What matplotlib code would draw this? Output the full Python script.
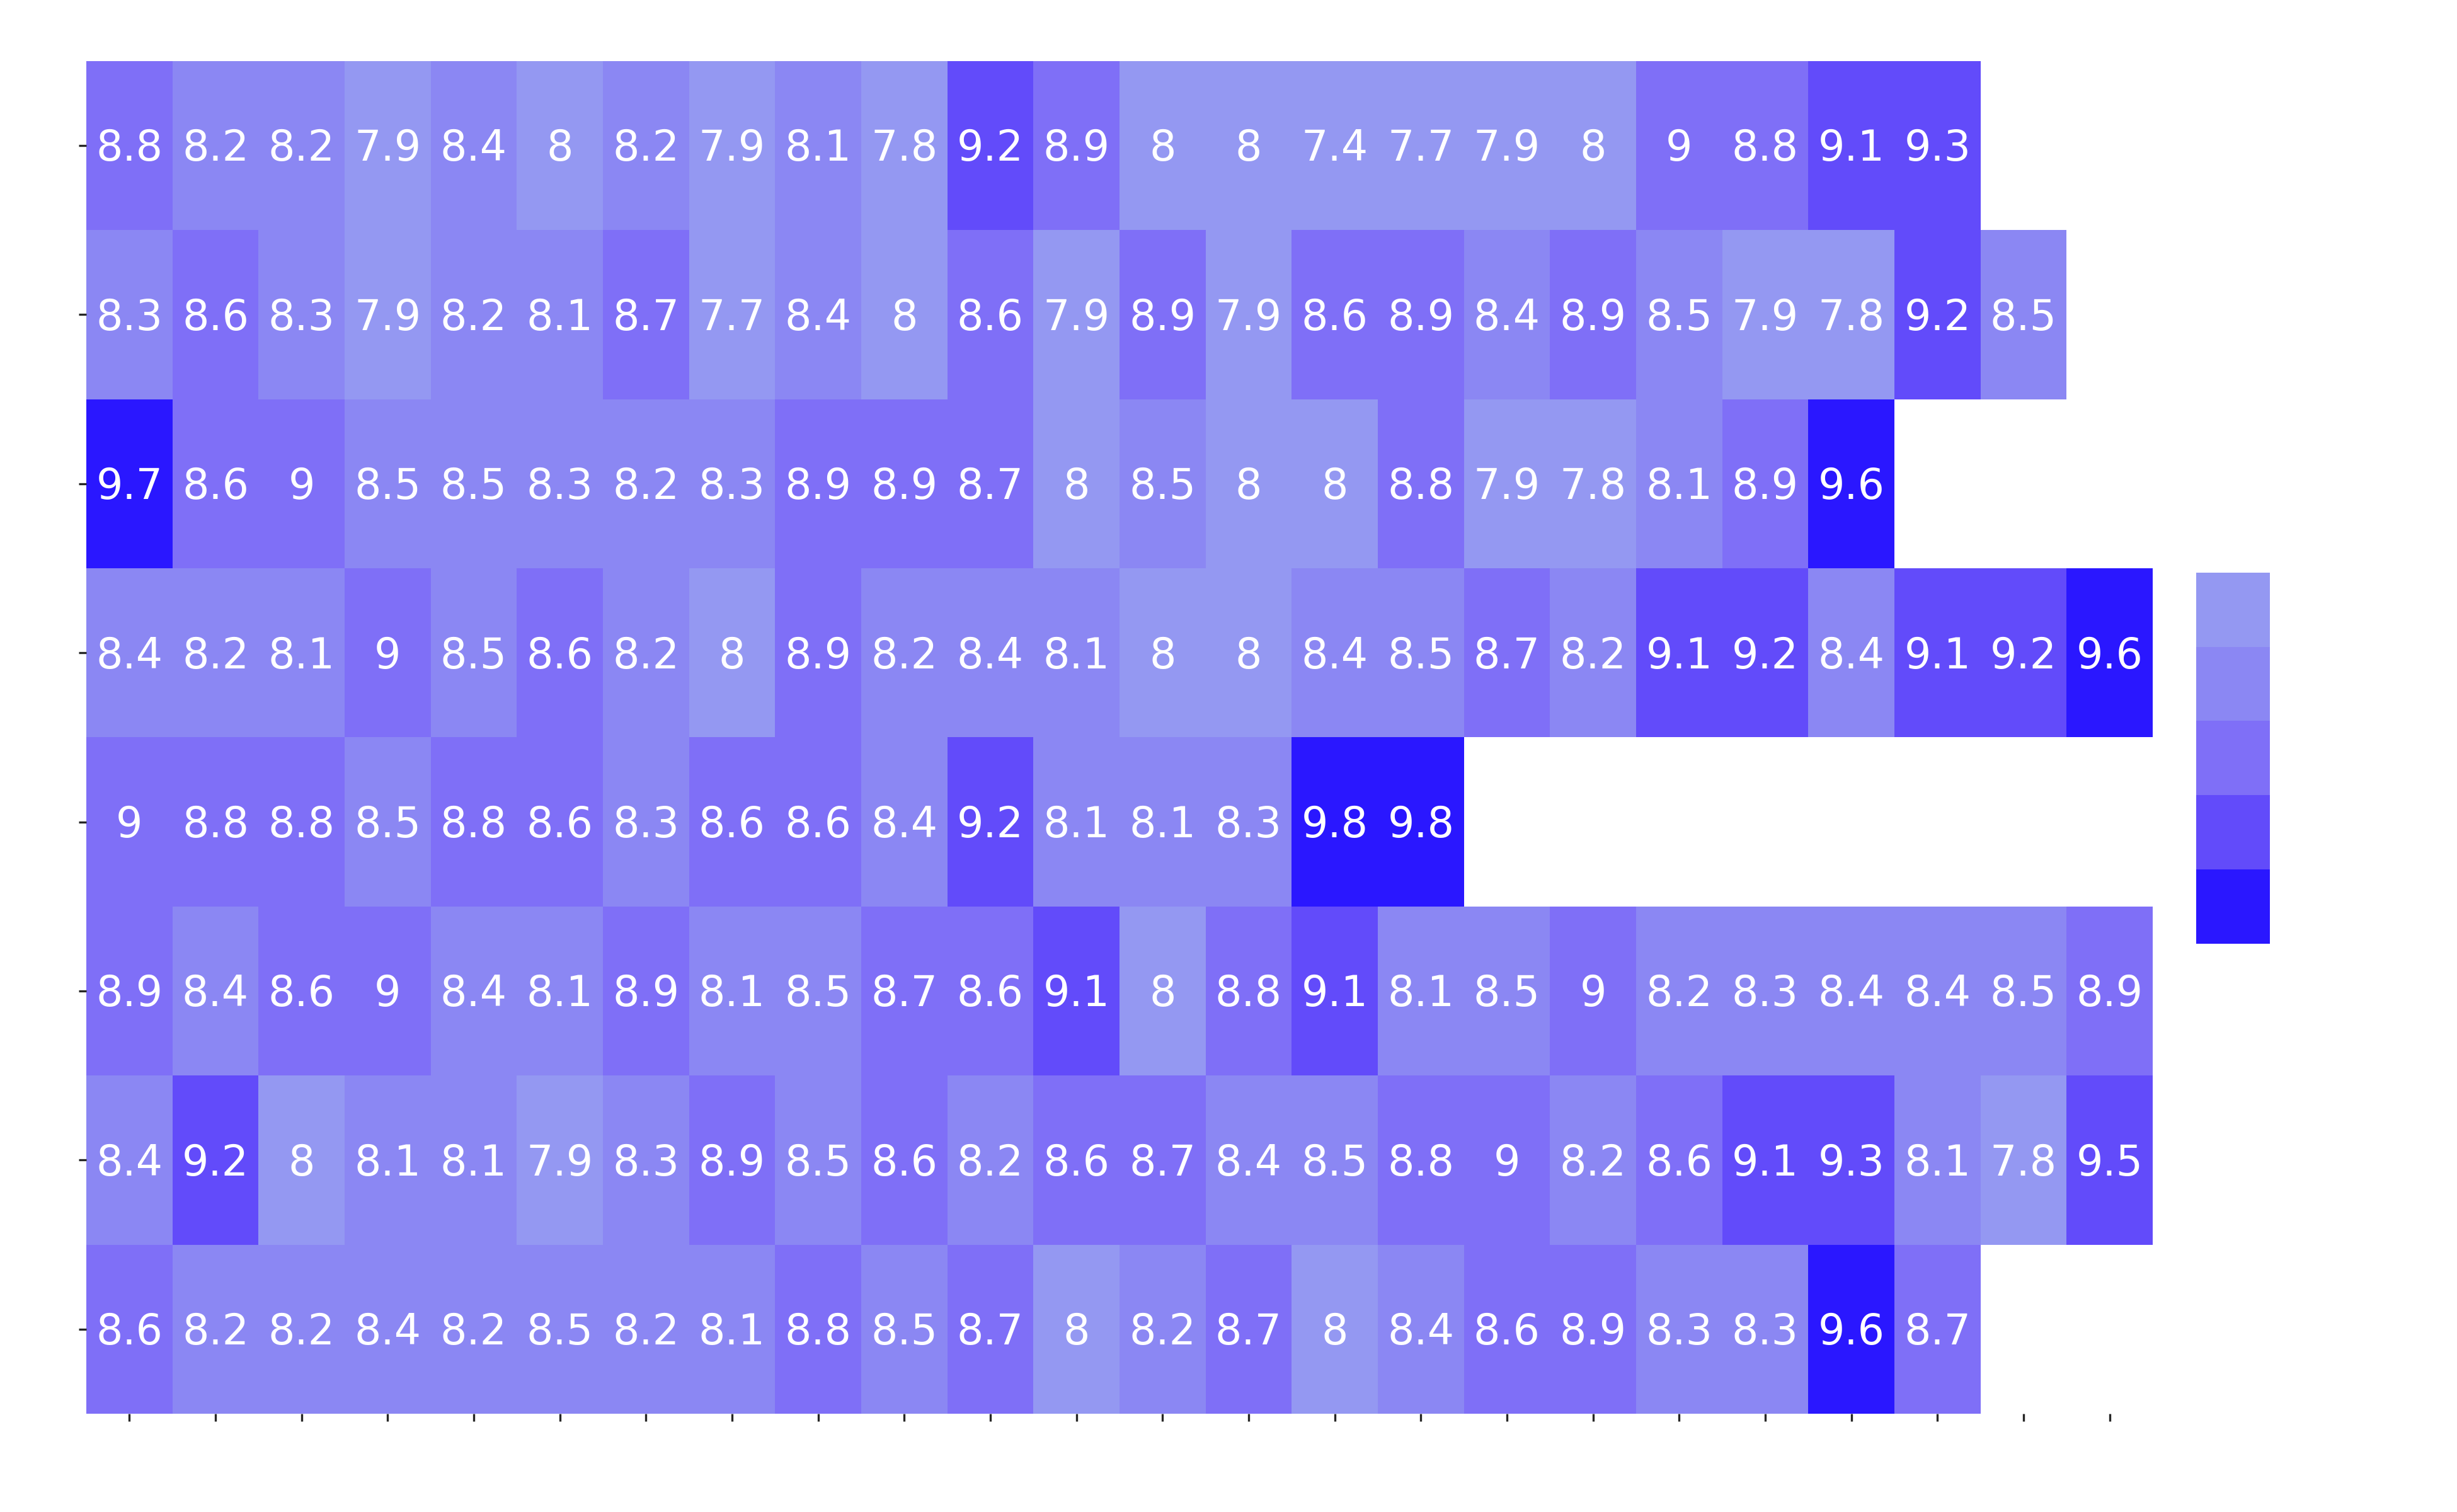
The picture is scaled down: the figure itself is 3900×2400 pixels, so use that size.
import numpy as np
import matplotlib
matplotlib.use("Agg")
import matplotlib.pyplot as plt
from matplotlib.colors import ListedColormap, BoundaryNorm

nan = np.nan
row0 = [8.8, 8.2, 8.2, 7.9, 8.4, 8.0, 8.2, 7.9, 8.1, 7.8, 9.2, 8.9, 8.0, 8.0, 7.4, 7.7, 7.9, 8.0, 9.0, 8.8, 9.1, 9.3, nan, nan]
row1 = [8.3, 8.6, 8.3, 7.9, 8.2, 8.1, 8.7, 7.7, 8.4, 8.0, 8.6, 7.9, 8.9, 7.9, 8.6, 8.9, 8.4, 8.9, 8.5, 7.9, 7.8, 9.2, 8.5, nan]
row2 = [9.7, 8.6, 9.0, 8.5, 8.5, 8.3, 8.2, 8.3, 8.9, 8.9, 8.7, 8.0, 8.5, 8.0, 8.0, 8.8, 7.9, 7.8, 8.1, 8.9, 9.6, nan, nan, nan]
row3 = [8.4, 8.2, 8.1, 9.0, 8.5, 8.6, 8.2, 8.0, 8.9, 8.2, 8.4, 8.1, 8.0, 8.0, 8.4, 8.5, 8.7, 8.2, 9.1, 9.2, 8.4, 9.1, 9.2, 9.6]
row4 = [9.0, 8.8, 8.8, 8.5, 8.8, 8.6, 8.3, 8.6, 8.6, 8.4, 9.2, 8.1, 8.1, 8.3, 9.8, 9.8, nan, nan, nan, nan, nan, nan, nan, nan]
row5 = [8.9, 8.4, 8.6, 9.0, 8.4, 8.1, 8.9, 8.1, 8.5, 8.7, 8.6, 9.1, 8.0, 8.8, 9.1, 8.1, 8.5, 9.0, 8.2, 8.3, 8.4, 8.4, 8.5, 8.9]
row6 = [8.4, 9.2, 8.0, 8.1, 8.1, 7.9, 8.3, 8.9, 8.5, 8.6, 8.2, 8.6, 8.7, 8.4, 8.5, 8.8, 9.0, 8.2, 8.6, 9.1, 9.3, 8.1, 7.8, 9.5]
row7 = [8.6, 8.2, 8.2, 8.4, 8.2, 8.5, 8.2, 8.1, 8.8, 8.5, 8.7, 8.0, 8.2, 8.7, 8.0, 8.4, 8.6, 8.9, 8.3, 8.3, 9.6, 8.7, nan, nan]

bin_edges = [7.0, 8.05, 8.55, 9.05, 9.55, 10.0]
palette = ["#9498F2", "#8B87F3", "#7F6FF7", "#624BFA", "#2A17FF"]

data = np.array([row0, row1, row2, row3, row4, row5, row6, row7])
nrows, ncols = data.shape

fig = plt.figure(figsize=(16.25, 10), dpi=240)
ax = fig.add_axes([0.03513, 0.0650, 0.8410, 0.8947])

cmap = ListedColormap(palette)
norm = BoundaryNorm(bin_edges, cmap.N)
masked = np.ma.masked_invalid(data)
mesh = ax.pcolormesh(np.arange(ncols + 1), np.arange(nrows + 1), masked,
                     cmap=cmap, norm=norm, edgecolors="none")
ax.set_xlim(0, ncols)
ax.set_ylim(nrows, 0)

for i in range(nrows):
    for j in range(ncols):
        v = data[i, j]
        if not np.isnan(v):
            ax.text(j + 0.5, i + 0.5 + 0.0913, f"{v:g}", ha="center", va="baseline",
                    color="white", fontsize=20)

ax.set_xticks(np.arange(ncols) + 0.5)
ax.set_yticks(np.arange(nrows) + 0.5)
ax.set_xticklabels([""] * ncols)
ax.set_yticklabels([""] * nrows)
ax.tick_params(colors="#262626", length=3.5, width=1.0)
for s in ax.spines.values():
    s.set_visible(False)

cax = fig.add_axes([0.8938, 0.3760, 0.0300, 0.2453])
cb = fig.colorbar(mesh, cax=cax, drawedges=True, spacing="uniform")
cb.outline.set_visible(False)
cb.dividers.set_color("white")
cb.dividers.set_linewidth(0.5)
cb.set_ticks([])
cax.minorticks_off()
cax.tick_params(which="both", length=0)
cax.invert_yaxis()

fig.savefig("out.png", dpi=240)
